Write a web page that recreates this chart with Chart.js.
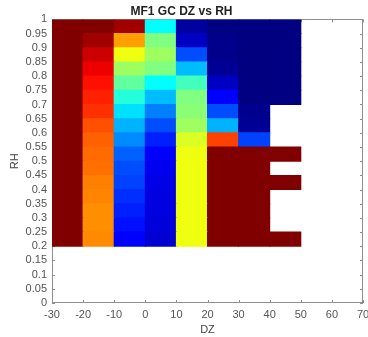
<!DOCTYPE html>
<html>
<head>
<meta charset="utf-8">
<script src="https://cdn.jsdelivr.net/npm/chart.js@4/dist/chart.umd.min.js"></script>
<style>
  html, body { margin: 0; padding: 0; background: #fff; }
  #wrap { width: 368px; height: 337px; }
</style>
</head>
<body>
<div id="wrap"><canvas id="heatmap"></canvas></div>
<script>
// DZ bin centres (bins are 10 wide) and RH bin bottoms (bins are 0.05 tall)
const dzCenters = [-25, -15, -5, 5, 15, 25, 35, 45];
const rhBottoms = [0.95, 0.9, 0.85, 0.8, 0.75, 0.7, 0.65, 0.6, 0.55, 0.5, 0.45, 0.4, 0.35, 0.3, 0.25, 0.2];

// colour index (0..1 on the jet map), one row per RH bin, one column per DZ bin
const cellValues = [
    [1, 1,     0.967, 0.375, 0.03,  0,     0,     0],
    [1, 0.967, 0.72,  0.5,   0.065, 0.01,  0,     0],
    [1, 0.925, 0.61,  0.53,  0.2,   0.01,  0,     0],
    [1, 0.892, 0.53,  0.5,   0.31,  0.02,  0,     0],
    [1, 0.86,  0.47,  0.375, 0.44,  0.065, 0,     0],
    [1, 0.844, 0.41,  0.31,  0.5,   0.125, 0,     0],
    [1, 0.828, 0.345, 0.25,  0.51,  0.2,   0.015, null],
    [1, 0.797, 0.3,   0.2,   0.53,  0.3,   0.02,  null],
    [1, 0.78,  0.26,  0.155, 0.59,  0.81,  0.19,  null],
    [1, 0.77,  0.22,  0.12,  0.61,  1,     1,     1],
    [1, 0.765, 0.2,   0.11,  0.61,  1,     1,     null],
    [1, 0.75,  0.19,  0.1,   0.61,  1,     1,     1],
    [1, 0.745, 0.17,  0.095, 0.61,  1,     1,     null],
    [1, 0.735, 0.155, 0.095, 0.61,  1,     1,     null],
    [1, 0.735, 0.14,  0.09,  0.61,  1,     1,     null],
    [1, 0.74,  0.125, 0.08,  0.61,  1,     1,     1]
];

const xTickValues = [-30, -20, -10, 0, 10, 20, 30, 40, 50, 60, 70];
const yTickValues = [0, 0.05, 0.1, 0.15, 0.2, 0.25, 0.3, 0.35, 0.4, 0.45, 0.5, 0.55, 0.6, 0.65, 0.7, 0.75, 0.8, 0.85, 0.9, 0.95, 1];

const rhStep = 0.05;

function jet(v) {
    const c = t => Math.round(255 * Math.max(0, Math.min(1, t)));
    const r = c(1.5 - Math.abs(4 * v - 3));
    const g = c(1.5 - Math.abs(4 * v - 2));
    const b = c(1.5 - Math.abs(4 * v - 1));
    return `rgb(${r},${g},${b})`;
}

const points = [];
const colors = [];
rhBottoms.forEach((rh, i) => {
    dzCenters.forEach((dz, j) => {
        const v = cellValues[i][j];
        if (v === null) return;
        points.push({ x: dz, y: [rh, rh + rhStep] });
        colors.push(jet(v));
    });
});

// MATLAB style box with inward ticks, drawn under the cells
const boxPlugin = {
    id: 'box',
    beforeDatasetsDraw(chart) {
        const { ctx, chartArea: a, scales: { x, y } } = chart;
        ctx.save();
        ctx.strokeStyle = '#8f8f8f';
        ctx.lineWidth = 1;
        ctx.strokeRect(Math.round(a.left) + 0.5, Math.round(a.top) + 0.5,
            Math.round(a.right - a.left) - 1, Math.round(a.bottom - a.top) - 1);
        ctx.beginPath();
        xTickValues.forEach(t => {
            const px = Math.round(x.getPixelForValue(t)) + 0.5;
            ctx.moveTo(px, a.bottom); ctx.lineTo(px, a.bottom - 3);
            ctx.moveTo(px, a.top); ctx.lineTo(px, a.top + 3);
        });
        yTickValues.forEach(t => {
            const py = Math.round(y.getPixelForValue(t)) + 0.5;
            ctx.moveTo(a.left, py); ctx.lineTo(a.left + 3, py);
            ctx.moveTo(a.right, py); ctx.lineTo(a.right - 3, py);
        });
        ctx.stroke();
        ctx.restore();
    }
};

Chart.defaults.font.family = '"Liberation Sans", Arial, sans-serif';

new Chart(document.getElementById('heatmap').getContext('2d'), {
    type: 'bar',
    data: {
        datasets: [{
            data: points,
            backgroundColor: colors,
            borderColor: colors,
            borderWidth: 0,
            inflateAmount: 0.5,
            grouped: false,
            barPercentage: 1,
            categoryPercentage: 1
        }]
    },
    options: {
        responsive: true,
        maintainAspectRatio: false,
        animation: false,
        layout: { padding: { right: 5 } },
        plugins: {
            legend: { display: false },
            tooltip: { enabled: false },
            title: {
                display: true,
                text: 'MF1 GC DZ vs RH',
                color: '#222',
                font: { size: 12, weight: 'bold' },
                padding: { top: 4, bottom: 1 }
            }
        },
        scales: {
            x: {
                type: 'linear',
                offset: false,
                min: -30,
                max: 70,
                grid: { display: false, drawTicks: false, offset: false },
                border: { display: false },
                ticks: { stepSize: 10, autoSkip: false, maxRotation: 0, padding: 5, color: '#555', font: { size: 11 } },
                title: { display: true, text: 'DZ', color: '#444', font: { size: 11 }, padding: { top: 0, bottom: 0 } },
                afterFit(s) { s.height = 34; s.paddingLeft = 0; s.paddingRight = 0; }
            },
            y: {
                min: 0,
                max: 1,
                grid: { display: false, drawTicks: false },
                border: { display: false },
                ticks: {
                    stepSize: 0.05, autoSkip: false, padding: 5, color: '#555', font: { size: 11 },
                    callback: v => String(Number(v.toFixed(2)))
                },
                title: { display: true, text: 'RH', color: '#444', font: { size: 11 }, padding: { top: 8, bottom: 0 } },
                afterFit(s) { s.width = 52; s.paddingTop = 0; s.paddingBottom = 0; }
            }
        }
    },
    plugins: [boxPlugin]
});
</script>
</body>
</html>
